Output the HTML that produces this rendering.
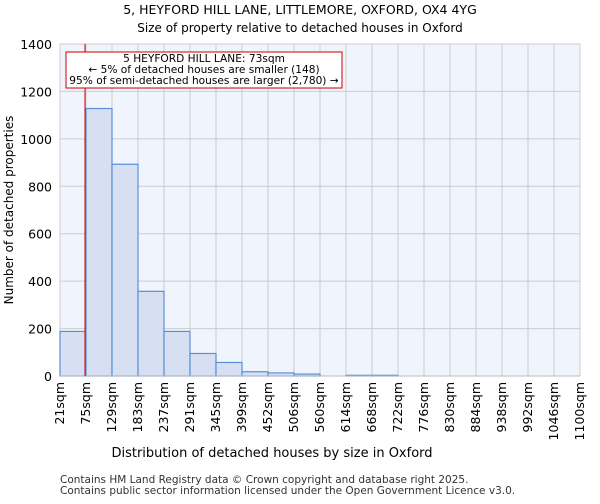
<!DOCTYPE html>
<html><head><meta charset="utf-8"><style>
body{margin:0;background:#fff;font-family:"DejaVu Sans","Liberation Sans",sans-serif}
</style></head><body>
<svg width="600" height="500" xmlns="http://www.w3.org/2000/svg" font-family="DejaVu Sans, Liberation Sans, sans-serif">
<text x="300" y="14" text-anchor="middle" font-size="12.5">5, HEYFORD HILL LANE, LITTLEMORE, OXFORD, OX4 4YG</text>
<text x="300" y="32" text-anchor="middle" font-size="12">Size of property relative to detached houses in Oxford</text>
<rect x="60" y="44" width="520" height="332" fill="#f0f4fc"/>
<g id="grid"></g><g id="bars"></g><g id="axes"></g>
<line x1="85" y1="44" x2="85" y2="376" stroke="#cc0000" stroke-width="1"/>
<rect x="66" y="52" width="276" height="36" fill="#fff" stroke="#cc0000"/>
<g font-size="10.6" text-anchor="middle">
<text x="204" y="62">5 HEYFORD HILL LANE: 73sqm</text>
<text x="204" y="73">← 5% of detached houses are smaller (148)</text>
<text x="204" y="84">95% of semi-detached houses are larger (2,780) →</text>
</g>
<text x="272" y="457" text-anchor="middle" font-size="13">Distribution of detached houses by size in Oxford</text>
<text transform="translate(13,210) rotate(-90)" text-anchor="middle" font-size="12">Number of detached properties</text>
<text x="60" y="483" font-size="10.5" fill="#333">Contains HM Land Registry data © Crown copyright and database right 2025.</text>
<text x="60" y="494" font-size="10.5" fill="#333">Contains public sector information licensed under the Open Government Licence v3.0.</text>
</svg>
<script>
const binLabels=["21sqm","75sqm","129sqm","183sqm","237sqm","291sqm","345sqm","399sqm","452sqm","506sqm","560sqm","614sqm","668sqm","722sqm","776sqm","830sqm","884sqm","938sqm","992sqm","1046sqm","1100sqm"];
const counts=[188,1128,893,357,188,95,57,18,13,8,0,3,3,0,0,0,0,0,0,0];
const yTicks=[0,200,400,600,800,1000,1200,1400];
const NS="http://www.w3.org/2000/svg";
const x0=60,x1=580,y0=376,y1=44,yMax=1400;
const nb=binLabels.length-1;
const xs=i=>x0+i*(x1-x0)/nb;
const ys=v=>y0-v/yMax*(y0-y1);
function mk(t,a,p){const e=document.createElementNS(NS,t);for(const k in a)e.setAttribute(k,a[k]);p.appendChild(e);return e;}
const grid=document.getElementById('grid'),bars=document.getElementById('bars'),axes=document.getElementById('axes');
yTicks.forEach(v=>{
 const l=mk('line',{x1:x0,x2:x1,y1:ys(v),y2:ys(v),stroke:'#cccccc'},grid);
 
 
 const t=mk('text',{x:x0-8,y:ys(v)+5,'text-anchor':'end','font-size':'12.5'},axes);
 t.textContent=v;
 
 
});
binLabels.forEach((lab,i)=>{
 const l=mk('line',{x1:xs(i),x2:xs(i),y1:y1,y2:y0,stroke:'#cccccc'},grid);
 
 
 const t=mk('text',{transform:`translate(${xs(i)+4},${y0+6}) rotate(-90)`,'text-anchor':'end','font-size':'12.5'},axes);
 t.textContent=lab;
 
 
});
counts.forEach((c,i)=>{
 if(c<=0)return;
 const r=mk('rect',{x:xs(i),y:ys(c),width:xs(i+1)-xs(i),height:y0-ys(c),fill:'#d6e0f2',stroke:'#5a8fd8','stroke-width':1.2},bars);
 
 
});
const ax=mk('line',{x1:x0,x2:x1,y1:y0,y2:y0,stroke:'#bbbbbb'},axes);


</script>
</body></html>
